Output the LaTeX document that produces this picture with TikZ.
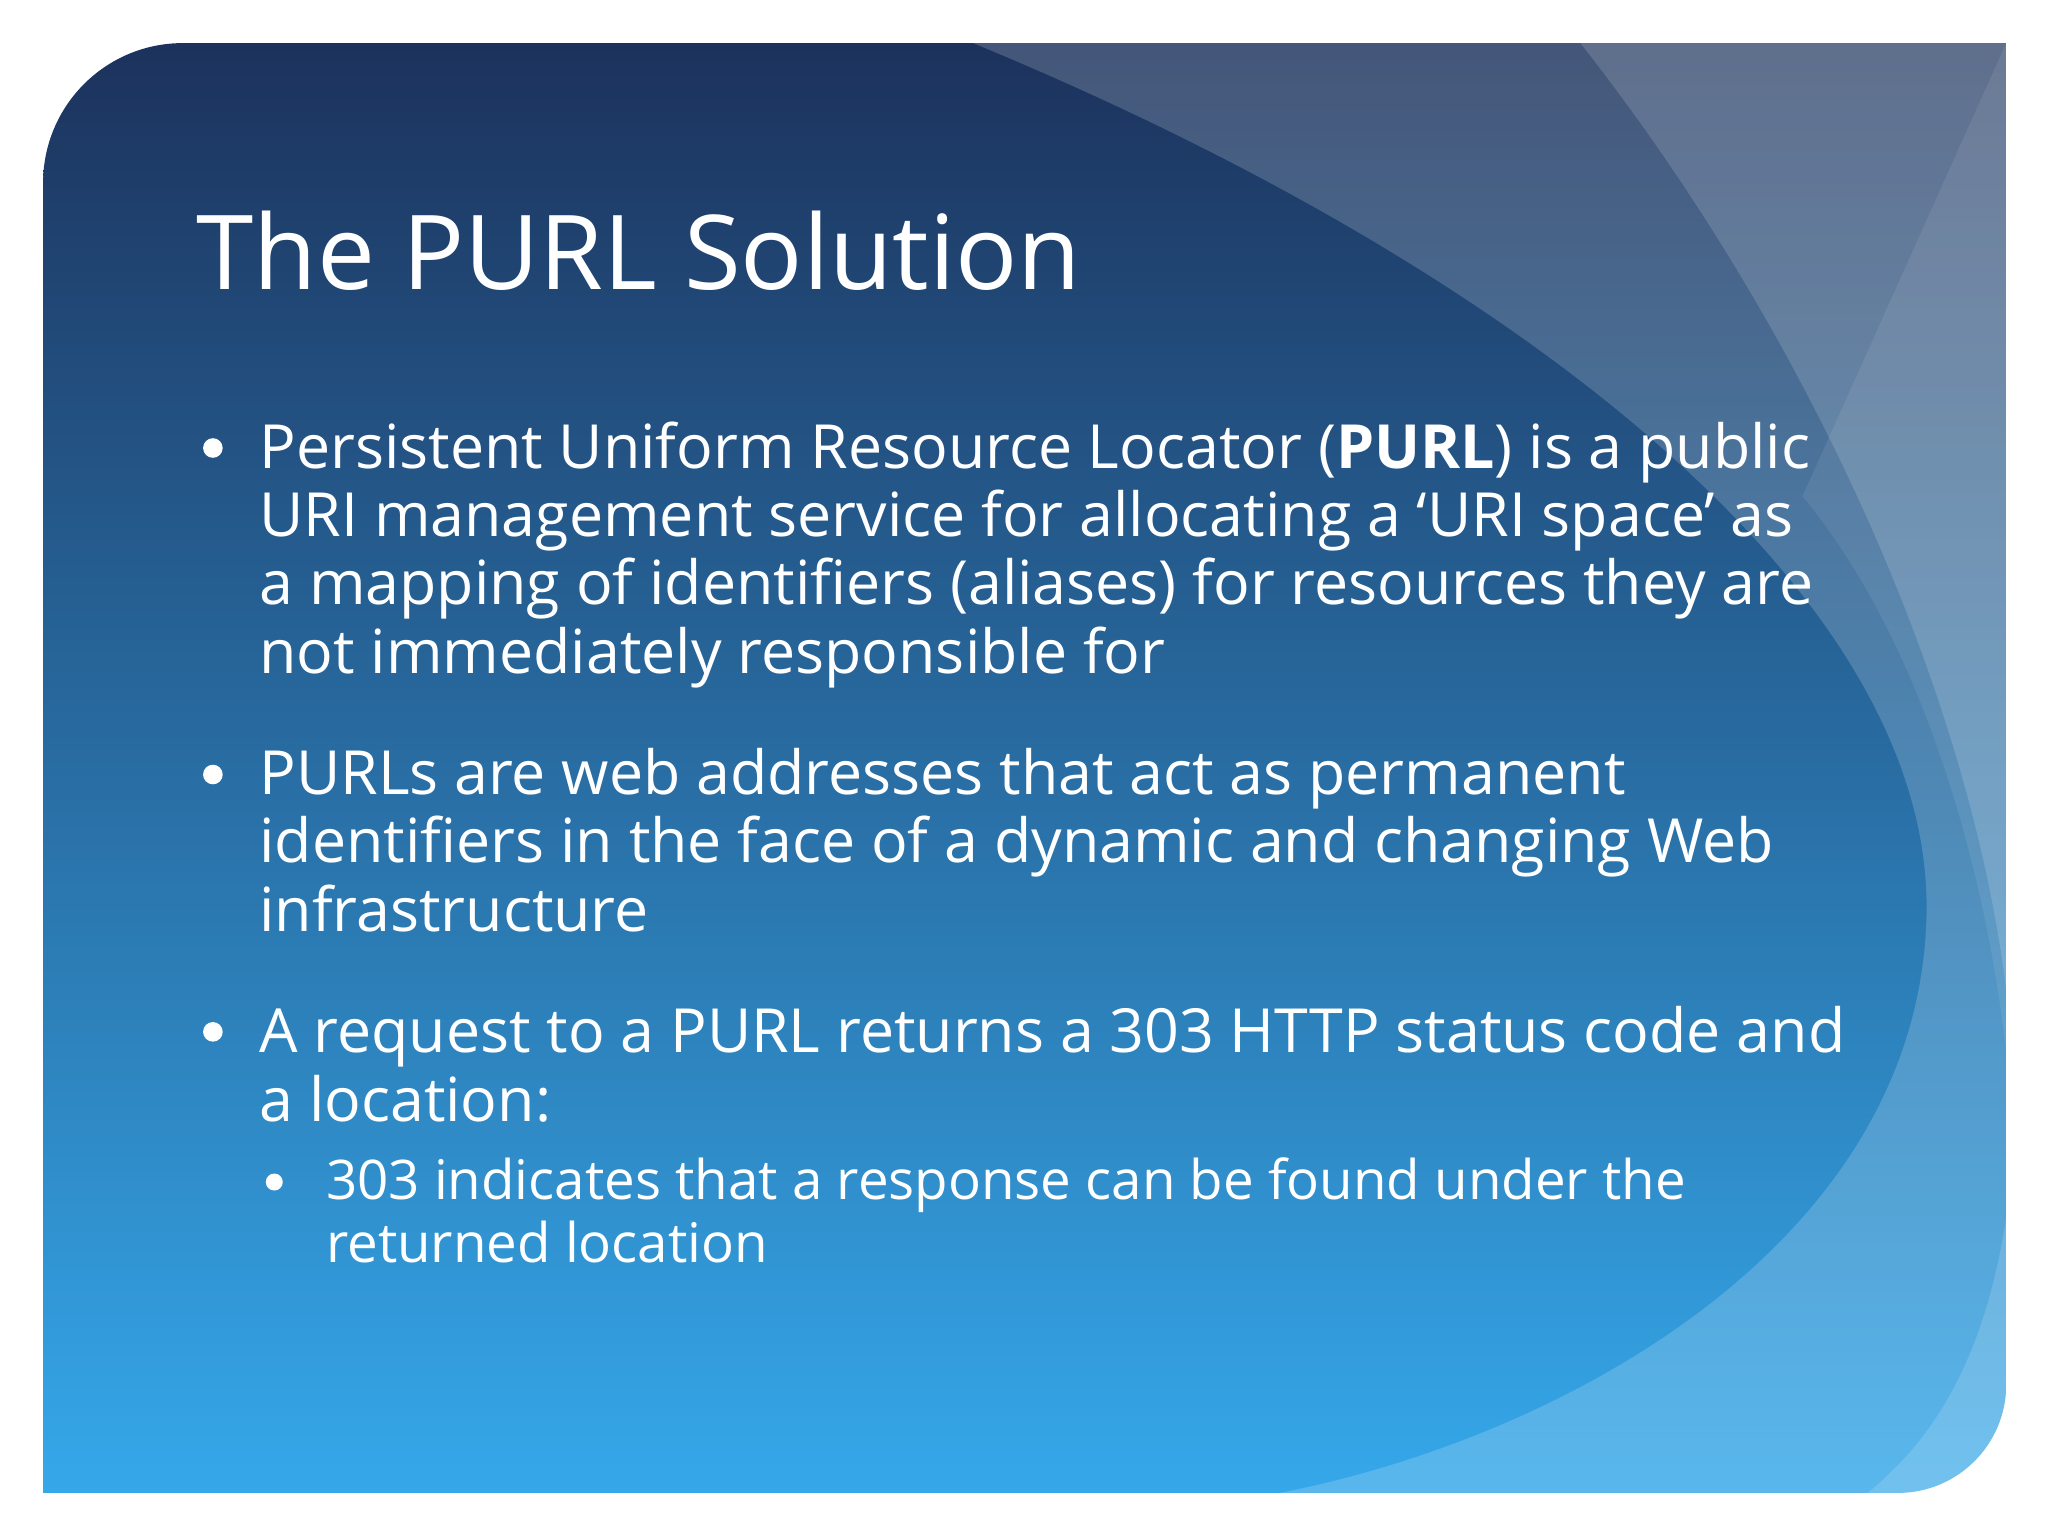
\documentclass[tikz,border=0pt]{standalone}
\usepackage{fontspec}
\setmainfont{Open Sans}
\begin{document}
\begin{tikzpicture}[x=0.01cm,y=-0.01cm,
  body/.style={anchor=north west,align=left,inner sep=0,text=white,font=\fontsize{13.25}{14.9}\selectfont},
  dot/.style={circle,fill=white,inner sep=0,minimum size=0.15cm}]
\useasboundingbox (0,0) rectangle (1568,1176);
\fill[white] (0,0) rectangle (1568,1176);
\begin{scope}
\clip (33,1143) -- (33,140) arc[start angle=180,end angle=270,radius=107] -- (1536,33) -- (1536,1060) arc[start angle=0,end angle=90,radius=83] -- cycle;
\shade[top color={rgb,255:red,28;green,50;blue,92},bottom color={rgb,255:red,53;green,168;blue,234}] (33,33) rectangle (1536,1143);
\fill[white,opacity=0.18] (745,33) .. controls (1150,200) and (1480,450) .. (1475,700) .. controls (1470,950) and (1200,1100) .. (980,1143) -- (1536,1143) -- (1536,33) -- cycle;
\fill[white,opacity=0.15] (1210,33) .. controls (1420,300) and (1560,650) .. (1540,900) .. controls (1525,1050) and (1470,1110) .. (1430,1143) -- (1536,1143) -- (1536,33) -- cycle;
\fill[white,opacity=0.08] (1380,380) .. controls (1480,500) and (1530,700) .. (1540,850) -- (1536,33) -- cycle;
\end{scope}
\node[anchor=west,inner sep=0,text=white,font=\fontsize{22.5}{26}\selectfont] (title) at (150,192) {The PURL Solution};
\node[dot] (d1) at (163,343) {};
\node[body] (b1) at (198,322) {Persistent Uniform Resource Locator (\textbf{PURL}) is a public\\URI management service for allocating a ‘URI space’ as\\a mapping of identifiers (aliases) for resources they are\\not immediately responsible for};
\node[dot] (d2) at (163,593) {};
\node[body] (b2) at (198,572) {PURLs are web addresses that act as permanent\\identifiers in the face of a dynamic and changing Web\\infrastructure};
\node[dot] (d3) at (163,790) {};
\node[body] (b3) at (198,770) {A request to a PURL returns a 303 HTTP status code and\\a location:};
\node[dot,minimum size=0.13cm] (d4) at (210,905) {};
\node[body,font=\fontsize{11.9}{13.6}\selectfont] (b4) at (249,886) {303 indicates that a response can be found under the\\returned location};
\end{tikzpicture}
\end{document}
